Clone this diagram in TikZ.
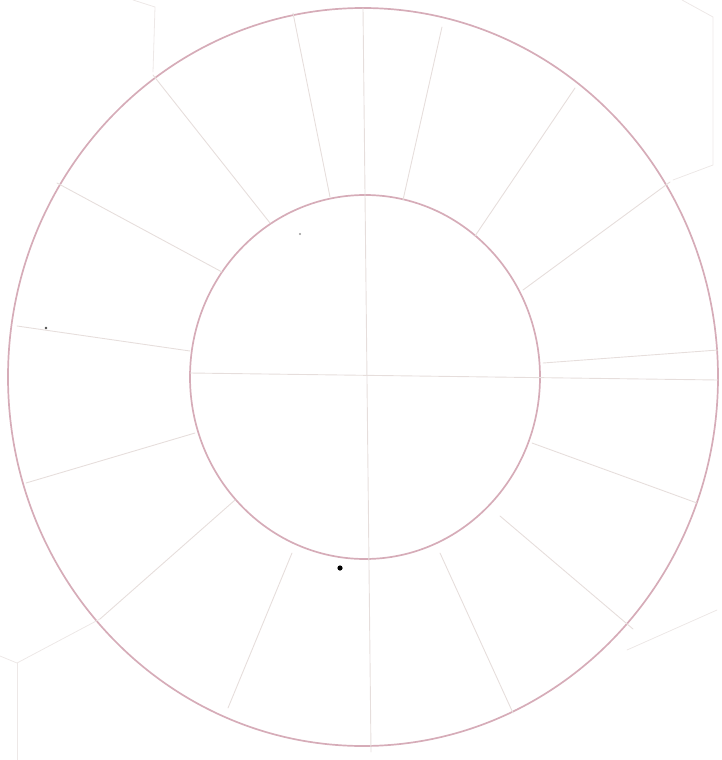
\documentclass[tikz,border=0pt]{standalone}
\definecolor{pencil}{RGB}{214,172,184}
\definecolor{guide}{RGB}{230,222,220}
\begin{document}
\begin{tikzpicture}[x=1pt,y=-1pt,line cap=round,
  rim/.style={pencil,line width=1.7pt},
  spoke/.style={guide,line width=0.9pt},
  faint/.style={guide!70,line width=0.8pt}]
  \useasboundingbox (0,0) rectangle (721,760);

  \draw[rim] (363,377) ellipse [x radius=355,y radius=369];
  \draw[rim] (365,377) ellipse [x radius=175,y radius=182];

  \foreach \xa/\ya/\xb/\yb in {57/183/222/272, 153/75/270/223, 293/13/330/197,
      442/27/403/200, 575/88/475/236, 670/182/523/290, 718/350/543/363,
      17/326/190/351, 26/483/195/433, 100/619/235/500, 228/708/292/553,
      513/713/440/553, 633/629/500/516, 697/503/532/443} {
    \draw[spoke] (\xa,\ya) -- (\xb,\yb);
  }
  \draw[spoke] (363,8) -- (371,752);
  \draw[spoke] (190,373) -- (718,380);

  \draw[faint] (133,0) -- (155,7) -- (153,72);
  \draw[faint] (682,0) -- (713,17) -- (713,165) -- (673,180);
  \draw[faint] (0,656) -- (17,663) -- (100,619);
  \draw[faint] (17,663) -- (17,760);
  \draw[faint] (627,650) -- (717,610);

  \fill (340,568) circle (2.6);
  \fill[black!70] (46,328) circle (1.3);
  \fill[black!40] (300,234) circle (1.1);
\end{tikzpicture}
\end{document}
